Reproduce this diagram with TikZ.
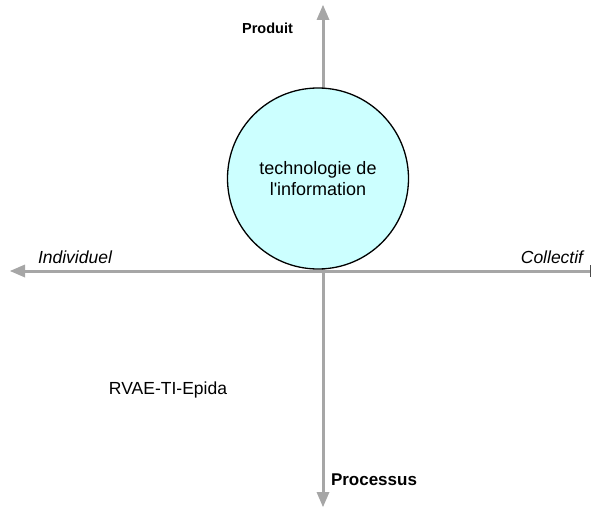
\documentclass[tikz,border=0pt]{standalone}
\usepackage{fontspec}
\setmainfont{Liberation Sans}
\usetikzlibrary{arrows.meta}
\definecolor{axisgray}{HTML}{A6A6A6}
\definecolor{tifill}{HTML}{CCFFFF}
\begin{document}
\begin{tikzpicture}[x=1pt,y=-1pt,
  axis/.style={draw=axisgray, line width=3pt},
  gtip/.style={-{Triangle[length=15pt,width=13pt,line width=0pt,fill=axisgray,color=axisgray]}},
  lbl/.style={inner sep=0pt, font=\fontsize{17.5}{21}\selectfont},
  ilbl/.style={lbl, font=\fontsize{17.5}{21}\selectfont\itshape},
  blbl/.style={lbl, font=\fontsize{17}{21}\selectfont\bfseries},
  tcircle/.style={circle, draw=black, line width=1.3pt, fill=tifill, minimum size=181pt, inner sep=0pt, align=center, font=\fontsize{18}{22}\selectfont}
]
\useasboundingbox (0,0) rectangle (592,508);
\coordinate (top) at (323,5);
\coordinate (bot) at (323,507);
\coordinate (left) at (10,271);
\coordinate (right) at (591,271);
\coordinate (origin) at (323,271);
\draw[axis, gtip] (origin) -- (top);
\draw[axis, gtip] (origin) -- (bot);
\draw[axis, gtip] (origin) -- (left);
\draw[axis, -{Bar[width=12pt,line width=1pt,color=black!70]}] (origin) -- (right);
\node[tcircle] (ti) at (318,178.5) {technologie de\\[-1pt]l\textquotesingle information};
\node[blbl, font=\fontsize{14.5}{18}\selectfont\bfseries] (produit) at (267.5,28) {Produit};
\node[ilbl] (indiv) at (75,257) {Individuel};
\node[ilbl] (coll) at (552,257) {Collectif};
\node[blbl] (proc) at (374,480) {Processus};
\node[lbl] (rvae) at (168,390) {RVAE-TI-Epida};
\end{tikzpicture}
\end{document}
